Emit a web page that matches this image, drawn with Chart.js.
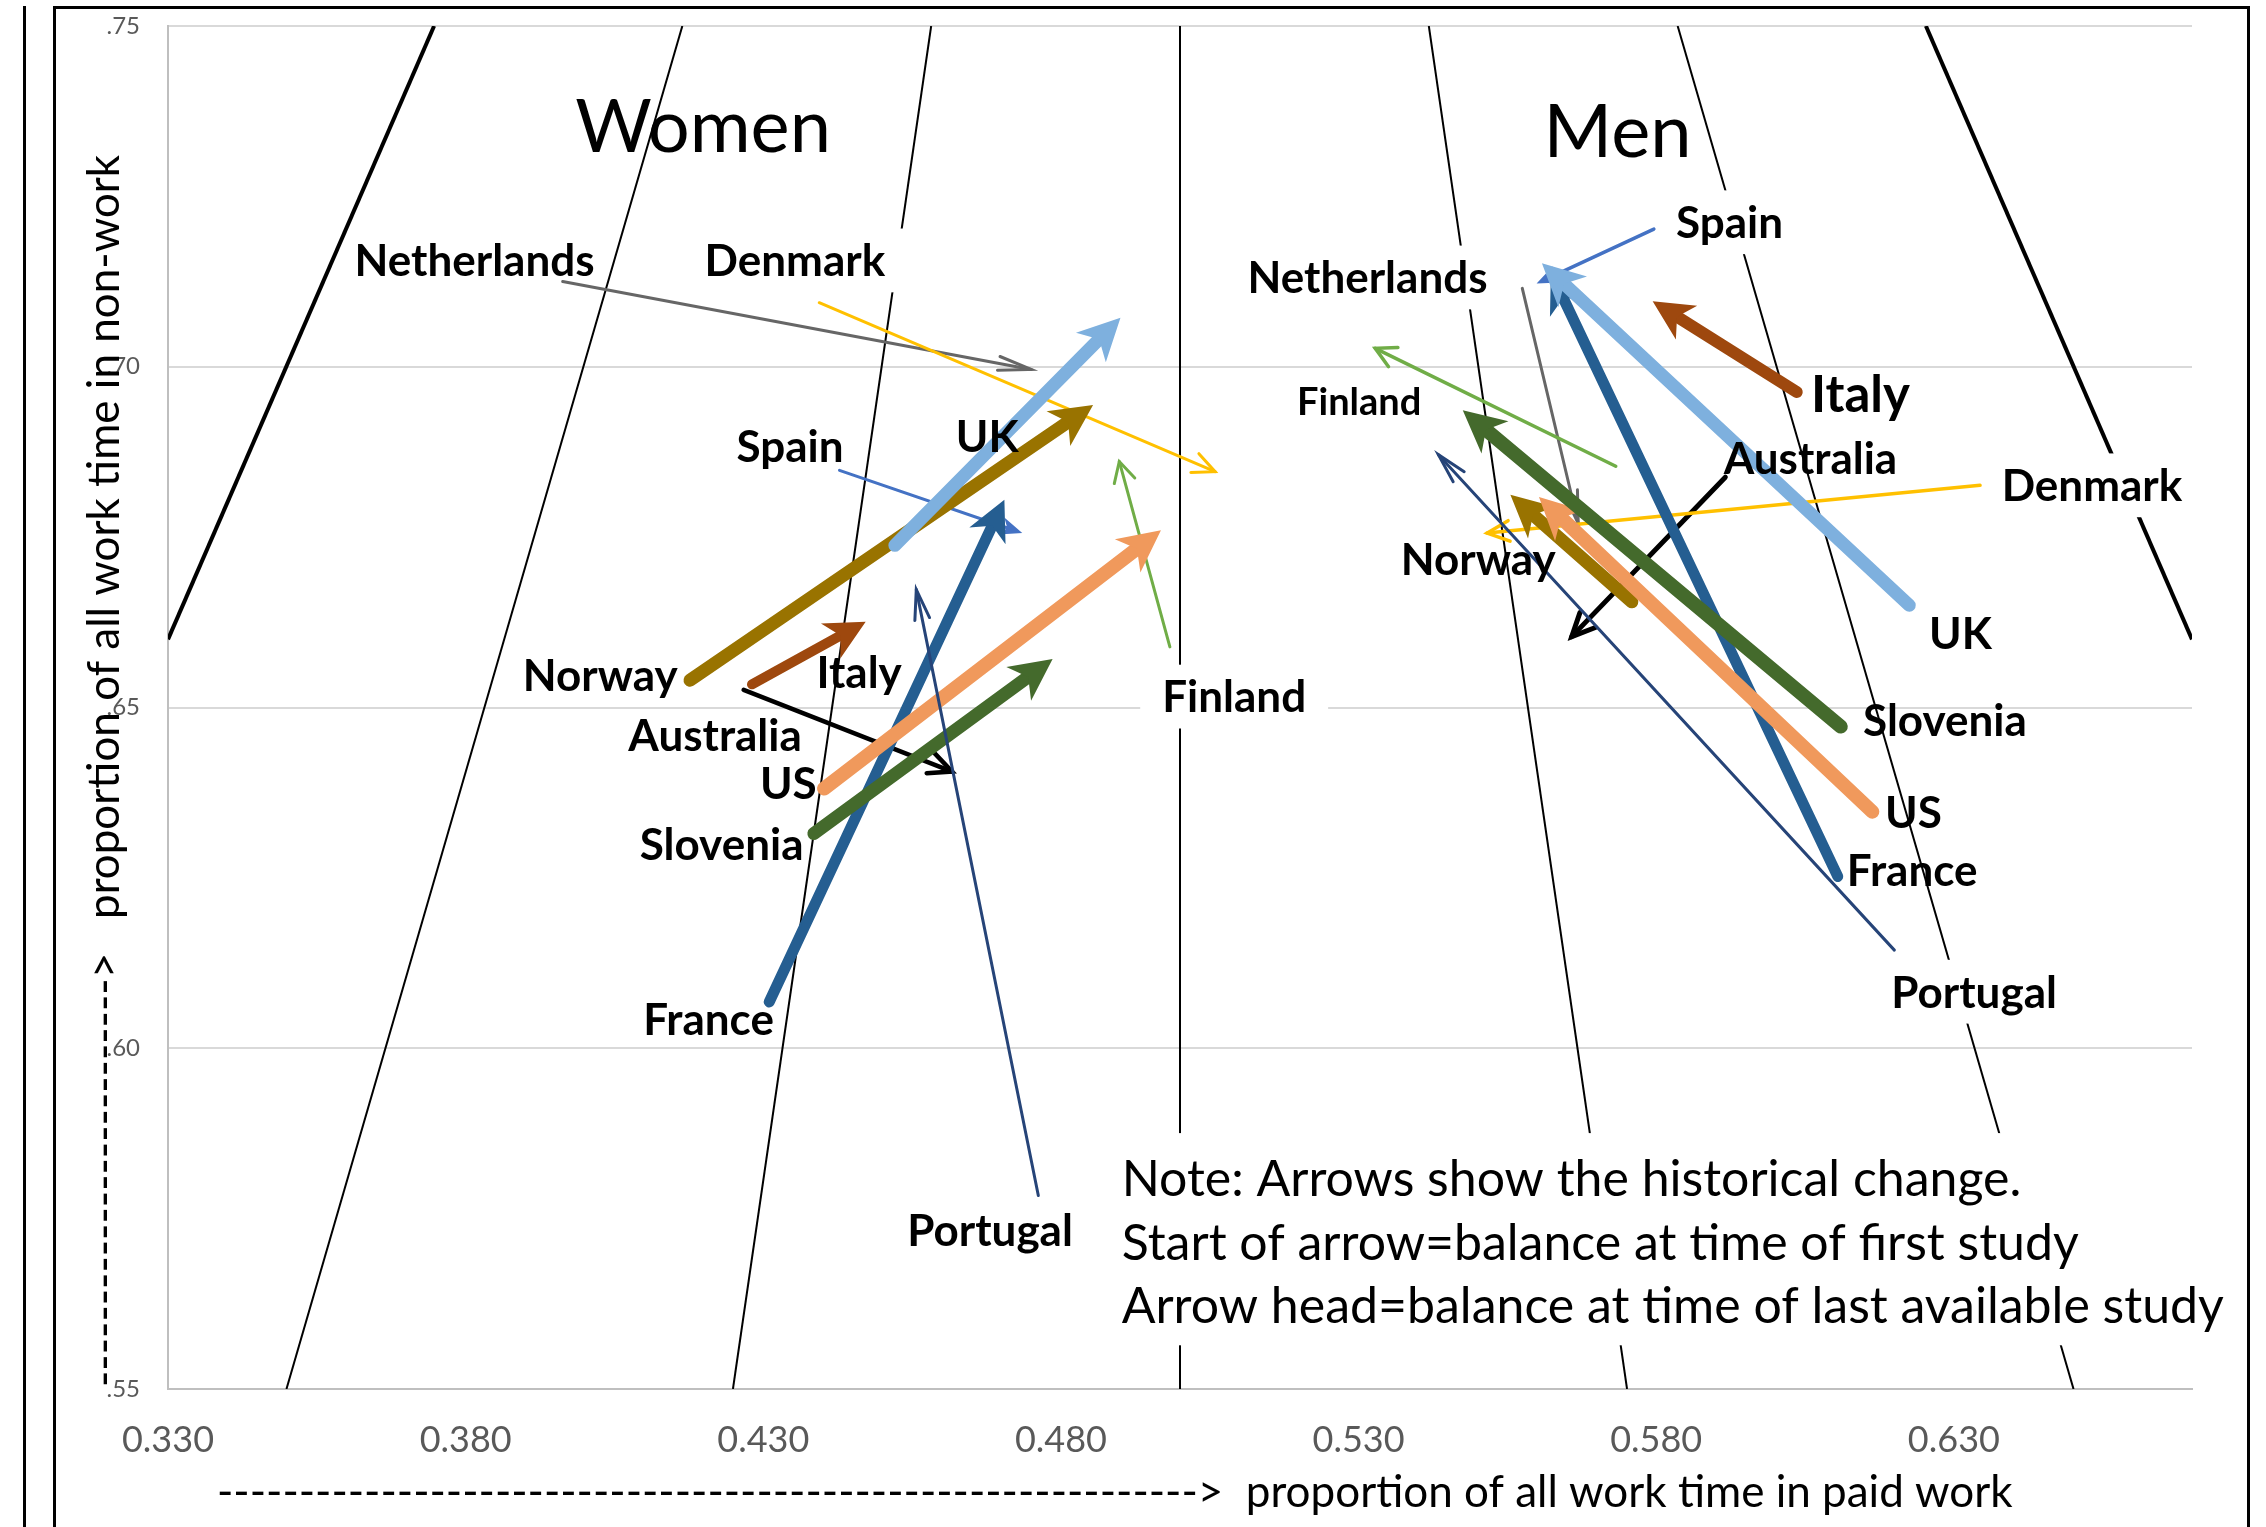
<!DOCTYPE html>
<html>
<head>
<meta charset="utf-8">
<script src="https://cdn.jsdelivr.net/npm/chart.js@4.4.1/dist/chart.umd.min.js"></script>
<style>
  html, body { margin: 0; padding: 0; background: #fff; overflow: hidden; }
  body { width: 2266px; height: 1527px; position: relative; }
  #leftLine { position: absolute; left: 23px; top: 6px; width: 3px; height: 1530px; background: #000; }
  #frame { position: absolute; left: 53px; top: 6px; width: 2197px; height: 1560px; border: 3px solid #000; box-sizing: border-box; }
  #chart { position: absolute; left: 0; top: 0; }
</style>
</head>
<body>
<div id="leftLine"></div>
<div id="frame"></div>
<canvas id="chart" width="2266" height="1527"></canvas>
<script>
// Values (share of all work time)
const countries = ['Netherlands', 'Denmark', 'UK', 'Norway', 'Spain', 'France', 'Italy', 'Australia', 'US', 'Slovenia', 'Portugal', 'Finland'];

// Women: arrow start = first study, arrow end = last available study
const womenStartX = [0.3963, 0.4394, 0.4521, 0.4177, 0.4428, 0.4310, 0.4281, 0.4267, 0.4402, 0.4385, 0.4762, 0.4983];
const womenStartY = [0.7125, 0.7094, 0.6738, 0.6540, 0.6848, 0.6068, 0.6534, 0.6526, 0.6381, 0.6315, 0.5784, 0.6589];
const womenEndX = [0.4750, 0.5059, 0.4900, 0.4854, 0.4735, 0.4705, 0.4472, 0.4617, 0.4968, 0.4786, 0.4557, 0.4898];
const womenEndY = [0.6996, 0.6846, 0.7072, 0.6944, 0.6756, 0.6805, 0.6626, 0.6406, 0.6760, 0.6571, 0.6673, 0.6861];

// Men
const menStartX = [0.5575, 0.6344, 0.6225, 0.5759, 0.5796, 0.6105, 0.6036, 0.5916, 0.6163, 0.6110, 0.6200, 0.5732];
const menStartY = [0.7115, 0.6826, 0.6650, 0.6655, 0.7202, 0.6252, 0.6963, 0.6838, 0.6347, 0.6472, 0.6144, 0.6854];
const menEndX = [0.5669, 0.5516, 0.5608, 0.5555, 0.5599, 0.5623, 0.5794, 0.5658, 0.5603, 0.5475, 0.5434, 0.5328];
const menEndY = [0.6770, 0.6756, 0.7152, 0.6812, 0.7122, 0.7139, 0.7096, 0.6604, 0.6809, 0.6936, 0.6871, 0.7027];

// Background guide lines: x at the top (y = .75) and the lower end point
const guideTopX = [0.3747, 0.4164, 0.4582, 0.5, 0.5418, 0.5836, 0.6253];
const guideBottomX = [0.33, 0.3499, 0.4249, 0.5, 0.5751, 0.6501, 0.67];
const guideBottomY = [0.66, 0.55, 0.55, 0.55, 0.55, 0.55, 0.66];

const xTicks = [0.33, 0.38, 0.43, 0.48, 0.53, 0.58, 0.63];
const yTicks = [0.55, 0.60, 0.65, 0.70, 0.75];

const xTitle = 'proportion of all work time in paid work';
const yTitle = 'proportion of all work time in non-work';
const noteLines = [
  'Note: Arrows show the historical change.',
  'Start of arrow=balance at time of first study',
  'Arrow head=balance at time of last available study'
];

// Styles
const FONT = 'Lato';
const guideWidth = [4, 2, 2, 2, 2, 2, 4];
const arrowStyle = {
  Netherlands: { color: '#666666', womenWidth: 3, menWidth: 3, head: 'open', len: 33, angle: 12 },
  Denmark: { color: '#ffc000', womenWidth: 3, menWidth: 3.5, head: 'open', len: 22, angle: 25 },
  UK: { color: '#7eb0de', womenWidth: 13, menWidth: 13, head: 'stealth', len: 42, width: 42 },
  Norway: { color: '#997300', womenWidth: 13, menWidth: 13, head: 'stealth', len: 42, width: 42 },
  Spain: { color: '#4472c4', womenWidth: 3, menWidth: 3.5, head: 'stealth', len: 22, width: 18 },
  France: { color: '#255e91', womenWidth: 11, menWidth: 11, head: 'stealth', len: 40, width: 40 },
  Italy: { color: '#9e480e', womenWidth: 10, menWidth: 12, head: 'stealth', len: 40, width: 40 },
  Australia: { color: '#000000', womenWidth: 4.5, menWidth: 5, head: 'open', len: 23, angle: 25 },
  US: { color: '#f0995c', womenWidth: 14, menWidth: 14, head: 'stealth', len: 42, width: 42 },
  Slovenia: { color: '#446a2c', womenWidth: 13, menWidth: 14, head: 'stealth', len: 42, width: 42 },
  Portugal: { color: '#264478', womenWidth: 3, menWidth: 3, head: 'open', len: 30, angle: 14 },
  Finland: { color: '#70ad47', womenWidth: 3, menWidth: 3.5, head: 'open', len: 20, angle: 28 }
};
// first = drawn on top
const drawOrder = ['Portugal', 'Slovenia', 'US', 'UK', 'Norway', 'France', 'Italy', 'Spain', 'Denmark', 'Finland', 'Australia', 'Netherlands'];

// Text annotations placed in data units (centre of the text)
const annotations = [
  { text: 'Women', x: 0.4199, y: 0.7354, size: 74, weight: 'normal' },
  { text: 'Men', x: 0.5735, y: 0.7347, size: 74, weight: 'normal' },
  { text: 'Netherlands', x: 0.3815, y: 0.7156 },
  { text: 'Denmark', x: 0.4353, y: 0.7156, box: true },
  { text: 'Spain', x: 0.4345, y: 0.6883 },
  { text: 'UK', x: 0.4676, y: 0.6898 },
  { text: 'Norway', x: 0.4026, y: 0.6548 },
  { text: 'Italy', x: 0.4461, y: 0.6552 },
  { text: 'Australia', x: 0.4219, y: 0.6459 },
  { text: 'US', x: 0.4342, y: 0.6389 },
  { text: 'Slovenia', x: 0.4230, y: 0.6300 },
  { text: 'France', x: 0.4208, y: 0.6043 },
  { text: 'Portugal', x: 0.4681, y: 0.5733 },
  { text: 'Finland', x: 0.5091, y: 0.6516, box: true },
  { text: 'Spain', x: 0.5923, y: 0.7212, box: true },
  { text: 'Netherlands', x: 0.5315, y: 0.7131, box: true },
  { text: 'Finland', x: 0.5301, y: 0.6949, size: 38 },
  { text: 'Italy', x: 0.6143, y: 0.6961, size: 51 },
  { text: 'Australia', x: 0.6059, y: 0.6866 },
  { text: 'Denmark', x: 0.6532, y: 0.6826, box: true },
  { text: 'Norway', x: 0.5501, y: 0.6717 },
  { text: 'UK', x: 0.6311, y: 0.6609 },
  { text: 'Slovenia', x: 0.6285, y: 0.6482 },
  { text: 'US', x: 0.6232, y: 0.6346 },
  { text: 'France', x: 0.6230, y: 0.6261 },
  { text: 'Portugal', x: 0.6334, y: 0.6083, box: true }
];
const notePos = { x: 0.4902, y: 0.5808 };

function makeArrow(label, x0, y0, x1, y1, st, width) {
  return {
    label: label,
    data: [{ x: x0, y: y0 }, { x: x1, y: y1 }],
    showLine: true,
    borderColor: st.color,
    borderWidth: width,
    borderCapStyle: 'round',
    pointRadius: 0,
    order: 0,
    head: st.head,
    headLen: st.len,
    headWidth: st.width,
    headAngle: st.angle
  };
}

const datasets = [];
guideTopX.forEach((x0, i) => {
  datasets.push({
    data: [{ x: x0, y: 0.75 }, { x: guideBottomX[i], y: guideBottomY[i] }],
    showLine: true,
    borderColor: '#000',
    borderWidth: guideWidth[i],
    pointRadius: 0,
    order: 1
  });
});
drawOrder.forEach(name => {
  const i = countries.indexOf(name);
  const st = arrowStyle[name];
  datasets.push(makeArrow(name + ' women', womenStartX[i], womenStartY[i], womenEndX[i], womenEndY[i], st, st.womenWidth));
  datasets.push(makeArrow(name + ' men', menStartX[i], menStartY[i], menEndX[i], menEndY[i], st, st.menWidth));
});

function unitVector(pts) {
  const a = pts[0], b = pts[1];
  const len = Math.hypot(b.x - a.x, b.y - a.y) || 1;
  return { ux: (b.x - a.x) / len, uy: (b.y - a.y) / len, tx: b.x, ty: b.y };
}

function drawHead(ctx, pts, ds) {
  const { ux, uy, tx, ty } = unitVector(pts);
  const nx = -uy, ny = ux;
  const L = ds.headLen;
  ctx.save();
  if (ds.head === 'open') {
    const w = L * Math.tan(ds.headAngle * Math.PI / 180);
    ctx.strokeStyle = ds.borderColor;
    ctx.lineWidth = ds.borderWidth;
    ctx.lineJoin = 'miter';
    ctx.lineCap = 'round';
    ctx.beginPath();
    ctx.moveTo(tx - ux * L + nx * w, ty - uy * L + ny * w);
    ctx.lineTo(tx, ty);
    ctx.lineTo(tx - ux * L - nx * w, ty - uy * L - ny * w);
    ctx.stroke();
  } else {
    const w = ds.headWidth / 2;
    ctx.fillStyle = ds.borderColor;
    ctx.beginPath();
    ctx.moveTo(tx, ty);
    ctx.lineTo(tx - ux * L + nx * w, ty - uy * L + ny * w);
    ctx.lineTo(tx - ux * L * 0.72, ty - uy * L * 0.72);
    ctx.lineTo(tx - ux * L - nx * w, ty - uy * L - ny * w);
    ctx.closePath();
    ctx.fill();
  }
  ctx.restore();
}

function drawNote(chart) {
  const ctx = chart.ctx;
  const left = chart.scales.x.getPixelForValue(notePos.x);
  const top = chart.scales.y.getPixelForValue(notePos.y);
  const gap = 63.6;
  ctx.font = '50px ' + FONT;
  let maxW = 0;
  noteLines.forEach(t => { maxW = Math.max(maxW, ctx.measureText(t).width); });
  ctx.fillStyle = '#fff';
  ctx.fillRect(left - 6, top - 46, maxW + 14, gap * (noteLines.length - 1) + 85);
  ctx.fillStyle = '#000';
  ctx.textAlign = 'left';
  noteLines.forEach((t, i) => ctx.fillText(t, left, top + i * gap + 17));
}

function drawLabels(chart, boxed) {
  const ctx = chart.ctx;
  const sx = chart.scales.x, sy = chart.scales.y;
  ctx.save();
  ctx.textBaseline = 'alphabetic';
  annotations.forEach(a => {
    if (!!a.box !== boxed) return;
    const size = a.size || 44;
    ctx.font = (a.weight || 'bold') + ' ' + size + 'px ' + FONT;
    ctx.textAlign = 'center';
    const px = sx.getPixelForValue(a.x);
    const py = sy.getPixelForValue(a.y);
    if (a.box) {
      const w = ctx.measureText(a.text).width + 44;
      const h = size * 1.45;
      ctx.fillStyle = '#fff';
      ctx.fillRect(px - w / 2, py - h / 2, w, h);
    }
    ctx.fillStyle = '#000';
    ctx.fillText(a.text, px, py + size * 0.36);
  });
  if (boxed) drawNote(chart);
  ctx.restore();
}

function drawAxisTitles(chart) {
  const ctx = chart.ctx;
  ctx.save();
  ctx.font = '44px ' + FONT;
  ctx.fillStyle = '#000';
  ctx.textBaseline = 'middle';
  ctx.textAlign = 'left';
  const dash = ctx.measureText('-').width;
  ctx.fillText('-'.repeat(Math.round(980 / dash)) + '>  ' + xTitle, 217, 1493);
  ctx.translate(105, 1387);
  ctx.rotate(-Math.PI / 2);
  ctx.fillText('-'.repeat(Math.round(415 / dash)) + '>   ' + yTitle, 0, 0);
  ctx.restore();
}

const arrowPlugin = {
  id: 'arrows',
  beforeDatasetDraw(chart, args) {
    const ds = chart.data.datasets[args.index];
    if (ds.head !== 'stealth') return;
    // hide the end of the shaft under the arrow head
    const { ux, uy, tx, ty } = unitVector(args.meta.data);
    const nx = -uy, ny = ux;
    const bx = tx - ux * ds.headLen * 0.6, by = ty - uy * ds.headLen * 0.6;
    const ctx = chart.ctx;
    ctx.save();
    ctx.beginPath();
    ctx.rect(0, 0, chart.width, chart.height);
    ctx.moveTo(bx + nx * 60, by + ny * 60);
    ctx.lineTo(bx + nx * 60 + ux * 80, by + ny * 60 + uy * 80);
    ctx.lineTo(bx - nx * 60 + ux * 80, by - ny * 60 + uy * 80);
    ctx.lineTo(bx - nx * 60, by - ny * 60);
    ctx.closePath();
    ctx.clip('evenodd');
    ds._clipped = true;
  },
  afterDatasetDraw(chart, args) {
    const ds = chart.data.datasets[args.index];
    if (ds._clipped) {
      chart.ctx.restore();
      ds._clipped = false;
    }
    if (ds.head) drawHead(chart.ctx, args.meta.data, ds);
    // index 0 is the last guide line drawn: label boxes go over the guides, under the arrows
    if (args.index === 0) drawLabels(chart, true);
  },
  afterDatasetsDraw(chart) {
    drawLabels(chart, false);
  },
  afterDraw(chart) {
    drawAxisTitles(chart);
  }
};

new Chart(document.getElementById('chart'), {
  type: 'scatter',
  data: { datasets: datasets },
  options: {
    responsive: false,
    animation: false,
    events: [],
    layout: { padding: { left: 68, right: 74, top: 26, bottom: 58 } },
    plugins: {
      legend: { display: false },
      tooltip: { enabled: false }
    },
    scales: {
      x: {
        type: 'linear',
        min: 0.33,
        max: 0.67,
        afterBuildTicks: s => { s.ticks = xTicks.map(v => ({ value: v })); },
        afterFit: s => { s.height = 80; },
        grid: { display: false, drawTicks: false },
        border: { display: true, color: '#bfbfbf', width: 2 },
        ticks: {
          font: { family: FONT, size: 36 },
          color: '#595959',
          padding: 30,
          maxRotation: 0,
          autoSkip: false,
          callback: v => v.toFixed(3)
        }
      },
      y: {
        type: 'linear',
        min: 0.55,
        max: 0.75,
        afterBuildTicks: s => { s.ticks = yTicks.map(v => ({ value: v })); },
        afterFit: s => { s.width = 100; s.paddingTop = 0; s.paddingBottom = 0; },
        grid: { color: '#d9d9d9', lineWidth: 2, drawTicks: false },
        border: { display: true, color: '#bfbfbf', width: 2 },
        ticks: {
          font: { family: FONT, size: 24 },
          color: '#595959',
          padding: 28,
          callback: v => '.' + Math.round(v * 100)
        }
      }
    }
  },
  plugins: [arrowPlugin]
});
</script>
</body>
</html>
